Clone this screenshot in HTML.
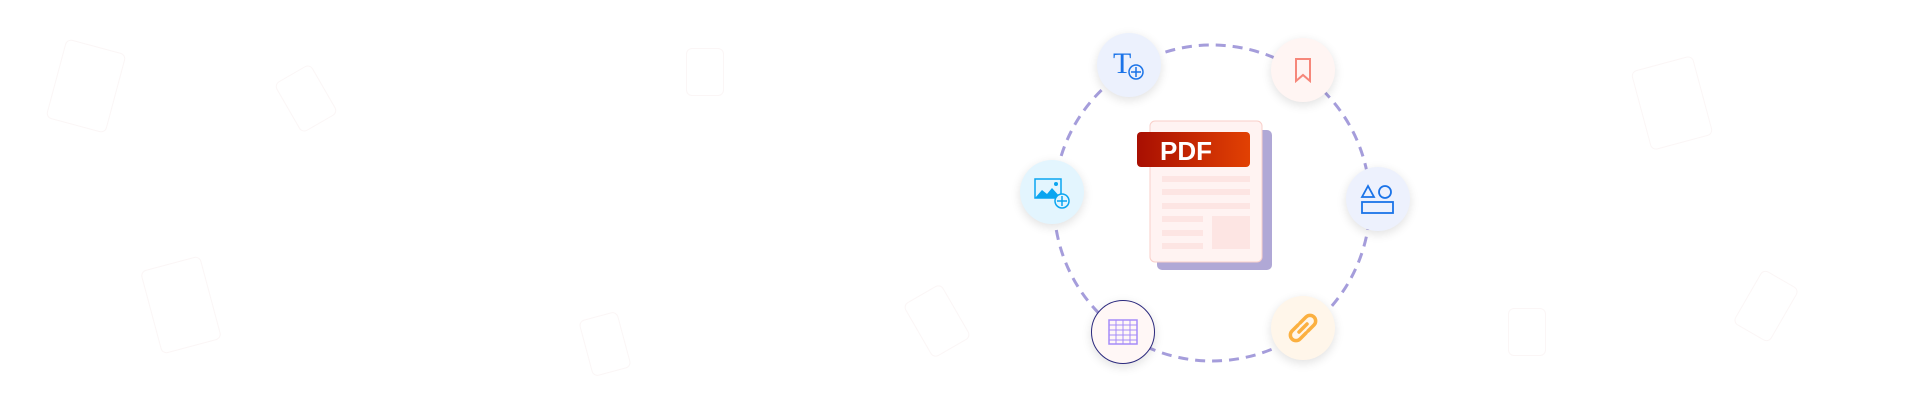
<!DOCTYPE html>
<html><head><meta charset="utf-8"><style>
body{margin:0;width:1920px;height:400px;background:#fff;overflow:hidden;position:relative;font-family:"Liberation Sans",sans-serif}
.n{position:absolute;width:64px;height:64px;border-radius:50%;box-shadow:0 3px 10px rgba(0,0,0,.12);display:flex;align-items:center;justify-content:center;box-sizing:border-box}
.f{position:absolute;border:1.5px solid #fbf6f6;border-radius:6px}
</style></head><body>
<div class="f" style="left:55px;top:45px;width:60px;height:80px;transform:rotate(15deg)"></div>
<div class="f" style="left:285px;top:70px;width:40px;height:55px;transform:rotate(-30deg)"></div>
<div class="f" style="left:686px;top:48px;width:36px;height:46px"></div>
<div class="f" style="left:150px;top:262px;width:60px;height:84px;transform:rotate(-15deg)"></div>
<div class="f" style="left:585px;top:315px;width:38px;height:56px;transform:rotate(-15deg)"></div>
<div class="f" style="left:915px;top:290px;width:42px;height:60px;transform:rotate(-30deg)"></div>
<div class="f" style="left:1640px;top:62px;width:62px;height:80px;transform:rotate(-15deg)"></div>
<div class="f" style="left:1508px;top:308px;width:36px;height:46px"></div>
<div class="f" style="left:1745px;top:275px;width:40px;height:60px;transform:rotate(30deg)"></div>
<svg style="position:absolute;left:0;top:0" width="1920" height="400">
<circle cx="1212" cy="203" r="158" fill="none" stroke="#a59ddb" stroke-width="3" stroke-dasharray="10 7"/>
<rect x="1157" y="130" width="115" height="140" rx="5" fill="#b0a8d6"/>
<rect x="1150" y="121" width="112" height="141" rx="5" fill="#fff3f2" stroke="#f9cfc9" stroke-width="1"/>
<defs><linearGradient id="g" x1="0" x2="1"><stop offset="0" stop-color="#a80f02"/><stop offset="1" stop-color="#e24103"/></linearGradient></defs>
<rect x="1137" y="132" width="113" height="35" rx="4" fill="url(#g)"/>
<text x="1160" y="160" font-size="26" font-weight="bold" fill="#fff" font-family="Liberation Sans">PDF</text>
<g fill="#fde5e3"><rect x="1162" y="176" width="88" height="6"/><rect x="1162" y="189" width="88" height="6"/><rect x="1162" y="203" width="88" height="6"/><rect x="1162" y="216" width="41" height="6"/><rect x="1162" y="230" width="41" height="6"/><rect x="1162" y="243" width="41" height="6"/><rect x="1212" y="216" width="38" height="33"/></g>
</svg>
<div class="n" style="left:1097px;top:33px;background:#ecf1fd"><svg width="40" height="40"><text x="4" y="28" font-size="30" font-family="Liberation Serif" fill="#1a73e8">T</text><circle cx="27" cy="27" r="7" fill="#ecf1fd" stroke="#1a73e8" stroke-width="1.5"/><path d="M27 22v10M22 27h10" stroke="#1a73e8" stroke-width="1.5"/></svg></div>
<div class="n" style="left:1271px;top:38px;background:#fff5f3"><svg width="20" height="26"><path d="M3 2h14v22l-7-6-7 6z" fill="none" stroke="#f6877a" stroke-width="2"/></svg></div>
<div class="n" style="left:1346px;top:167px;background:#edf1fd"><svg width="36" height="34"><path d="M2 15l6-11 6 11z" fill="none" stroke="#1a73e8" stroke-width="1.8"/><circle cx="25" cy="10" r="6" fill="none" stroke="#1a73e8" stroke-width="1.8"/><rect x="2" y="20" width="31" height="11" fill="none" stroke="#1a73e8" stroke-width="1.8"/></svg></div>
<div class="n" style="left:1271px;top:296px;background:#fff6ea"><svg width="34" height="34"><g fill="none" stroke="#fbb040" stroke-width="3.5" stroke-linecap="round"><path d="M14 12l6-6a5 5 0 0 1 8 8l-6 6"/><path d="M20 22l-6 6a5 5 0 0 1-8-8l6-6"/><path d="M13 21l8-8"/></g></svg></div>
<div class="n" style="left:1091px;top:300px;background:#fff7f6;border:1.5px solid #2c2a7e"><svg width="30" height="26"><rect x="1" y="1" width="28" height="24" fill="none" stroke="#a58cf8" stroke-width="1.5"/><g stroke="#a58cf8" stroke-width="1"><path d="M1 6h28M1 11h28M1 16h28M1 21h28M8 1v24M15 1v24M22 1v24"/></g></svg></div>
<div class="n" style="left:1020px;top:160px;background:#e3f5fe"><svg width="40" height="36"><rect x="3" y="5" width="26" height="19" fill="none" stroke="#0aa5f0" stroke-width="1.5"/><path d="M3 24l7-8 5 4 5-6 9 10z" fill="#0aa5f0"/><circle cx="24" cy="10" r="2" fill="#0aa5f0"/><circle cx="30" cy="27" r="7" fill="#e3f5fe" stroke="#0aa5f0" stroke-width="1.5"/><path d="M30 22v10M25 27h10" stroke="#0aa5f0" stroke-width="1.5"/></svg></div>
</body></html>
